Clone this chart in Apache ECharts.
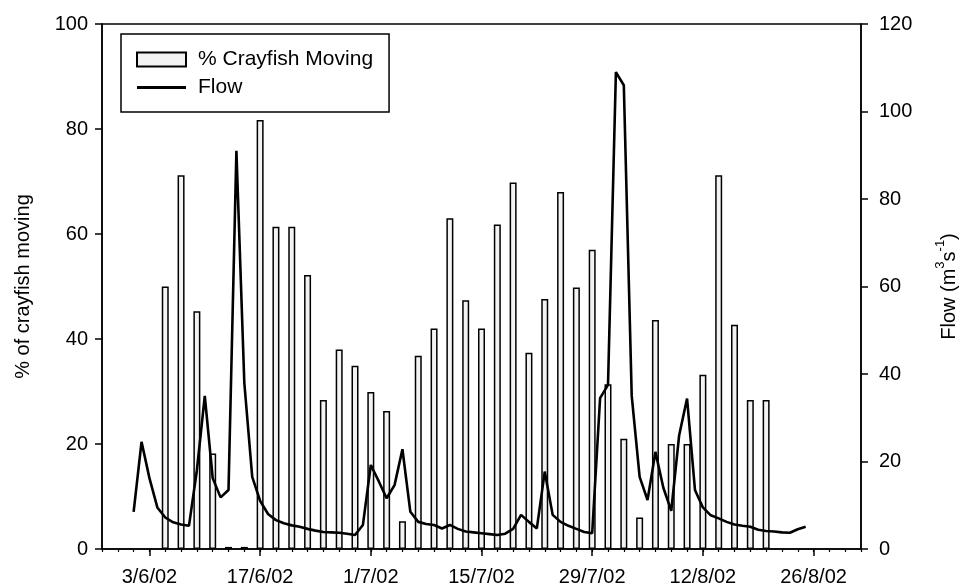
<!DOCTYPE html>
<html><head><meta charset="utf-8">
<script src="https://cdn.jsdelivr.net/npm/echarts@6/dist/echarts.min.js"></script>
<style>html,body{margin:0;padding:0;background:#fff}#c{width:960px;height:587px}</style>
</head><body><div id="c"></div>
<script>
// Day numbers: 0 = 1 June 2002
const barDays = [4,6,8,10,12,14,16,18,20,22,24,26,28,30,32,34,36,38,40,42,44,46,48,50,52,54,56,58,60,62,64,66,68,70,72,74,76,78,80];
const crayfishMoving = [50,71.2,45.3,18.2,0.4,0.4,81.7,61.4,61.4,52.2,28.4,38,34.9,29.9,26.3,5.3,36.8,42,63,47.4,42,61.8,69.8,37.4,47.6,68,49.8,57,31.4,21,6,43.6,20,20,33.2,71.2,42.7,28.4,28.4];
const flowDays = [0,1,2,3,4,5,6,7,8,9,10,11,12,13,14,15,16,17,18,19,20,21,22,23,24,25,26,27,28,29,30,31,32,33,34,35,36,37,38,39,40,41,42,43,44,45,46,47,48,49,50,51,52,53,54,55,56,57,58,59,60,61,62,63,64,65,66,67,68,69,70,71,72,73,74,75,76,77,78,79,80,81,82,83,84,85];
const flowValues = [8.5,24.5,16.2,9.5,7.2,6.1,5.6,5.3,18,35,16.2,11.8,13.5,91,38,16.5,11,8,6.6,5.9,5.4,5.1,4.6,4.2,3.9,3.8,3.7,3.5,3.2,5.5,19.2,15.5,11.6,14.6,22.8,8.5,6.2,5.7,5.5,4.7,5.5,4.6,4.0,3.8,3.6,3.4,3.2,3.5,4.6,7.8,6.2,4.7,17.7,7.8,6.2,5.3,4.6,3.9,3.6,34.5,37.5,109,106,35,16.5,11.2,22.2,14,8.7,26,34.4,13.5,9.5,7.7,7.0,6.2,5.6,5.3,5.1,4.4,4.1,4.0,3.8,3.7,4.5,5.1];
const xTickDays = [2,16,30,44,58,72,86];
const xTickLabels = ['3/6/02','17/6/02','1/7/02','15/7/02','29/7/02','12/8/02','26/8/02'];
const seriesNames = ['% Crayfish Moving','Flow'];
const leftAxisTitle = '% of crayfish moving';

const FONT = '"Liberation Sans", Arial, Helvetica, sans-serif';
const labelMap = {};
xTickDays.forEach((d,i)=>{labelMap[d]=xTickLabels[i];});
const chart = echarts.init(document.getElementById('c'), null, {renderer:'canvas'});
const axisLine = {show:true, onZero:false, lineStyle:{color:'#000', width:1.5}};
const option = {
  animation:false,
  backgroundColor:'#fff',
  textStyle:{fontFamily:FONT, color:'#000'},
  grid:{left:102, right:99, top:24, bottom:38, containLabel:false, outerBoundsMode:'none',
        show:true, borderColor:'#000', borderWidth:1.5, backgroundColor:'transparent'},
  legend:{
    left:121, top:34, orient:'vertical', padding:[15,16,14,15], itemGap:7, itemWidth:49, itemHeight:14,
    borderColor:'#000', borderWidth:1.5, backgroundColor:'#fff',
    textStyle:{fontSize:21, color:'#000', fontFamily:FONT, padding:[0,0,0,7]},
    data:[
      {name:seriesNames[0], icon:'rect'},
      {name:seriesNames[1], icon:'path://M0,0M49,14M0,5.6L49,5.6L49,8.4L0,8.4Z', itemStyle:{color:'#000', borderWidth:0}}
    ]
  },
  xAxis:[
    {type:'value', min:-4, max:92, interval:2, position:'bottom',
     axisLine:axisLine, axisTick:{show:true, length:3, lineStyle:{color:'#000', width:1.2}},
     axisLabel:{show:false}, splitLine:{show:false}},
    {type:'value', min:-4, max:92, position:'bottom',
     axisLine:{show:false, onZero:false},
     axisTick:{show:true, customValues:xTickDays, length:7, lineStyle:{color:'#000', width:1.5}},
     axisLabel:{show:true, customValues:xTickDays, formatter:v=>labelMap[v]||'', fontSize:20, margin:18, color:'#000', fontFamily:FONT},
     splitLine:{show:false}}
  ],
  yAxis:[
    {type:'value', min:0, max:100, interval:20, position:'left',
     name:leftAxisTitle, nameLocation:'middle', nameGap:69, nameTextStyle:{fontSize:20, color:'#000', fontFamily:FONT},
     axisLine:axisLine, axisTick:{show:true, length:7, lineStyle:{color:'#000', width:1.5}},
     axisLabel:{fontSize:20, margin:14, color:'#000', fontFamily:FONT}, splitLine:{show:false}},
    {type:'value', min:0, max:120, interval:20, position:'right',
     name:'{n|Flow (m}{s|3}{n|s}{s|-1}{n|)}', nameLocation:'middle', nameRotate:90, nameGap:73,
     nameTextStyle:{color:'#000', fontFamily:FONT, rich:{
       n:{fontSize:20, lineHeight:30, fontFamily:FONT, color:'#000'},
       s:{fontSize:13, lineHeight:13, verticalAlign:'top', fontFamily:FONT, color:'#000'}}},
     axisLine:axisLine, axisTick:{show:true, length:7, lineStyle:{color:'#000', width:1.5}},
     axisLabel:{fontSize:20, margin:18, color:'#000', fontFamily:FONT}, splitLine:{show:false}}
  ],
  series:[
    {type:'bar', name:seriesNames[0], xAxisIndex:0, yAxisIndex:0,
     data:barDays.map((d,i)=>[d, crayfishMoving[i]]), barWidth:7,
     itemStyle:{color:'#f3f3f3', borderColor:'#000', borderWidth:1.5}, z:2},
    {type:'line', name:seriesNames[1], xAxisIndex:0, yAxisIndex:1,
     data:flowDays.map((d,i)=>[d, flowValues[i]]), symbol:'none',
     lineStyle:{color:'#000', width:2.6}, itemStyle:{color:'#000'}, z:3}
  ]
};
chart.setOption(option);
</script></body></html>
